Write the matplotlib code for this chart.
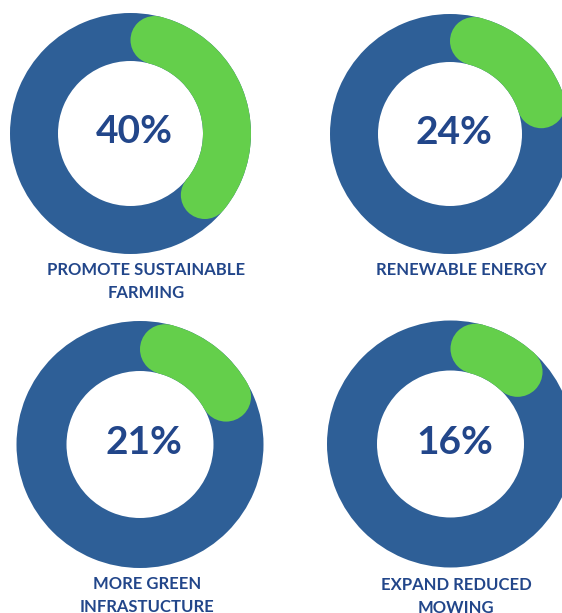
import numpy as np
import matplotlib
matplotlib.use("Agg")
import matplotlib.pyplot as plt
from matplotlib.patches import Wedge, Circle

# values shown in the four rings
labels = ["PROMOTE SUSTAINABLE\nFARMING", "RENEWABLE ENERGY",
          "MORE GREEN\nINFRASTUCTURE", "EXPAND REDUCED\nMOWING"]
values = [40, 24, 21, 16]

# layout in pixels (top-left origin)
centers = [(130.5, 133.5), (450, 134), (140, 444.5), (450.5, 444)]
outer_r = [120.5, 120, 123.5, 123.5]
ring_w = [48, 48, 50, 50]
label_pos = [(146, 262), (461.5, 262), (147, 576), (456, 577)]

W, H = 562, 613
DPI = 100
BLUE = "#2E5F97"
GREEN = "#64CF4B"
NAVY = "#22468A"

fig = plt.figure(figsize=(W / DPI, H / DPI), dpi=DPI)
ax = fig.add_axes([0, 0, 1, 1])
ax.set_xlim(0, W)
ax.set_ylim(0, H)
ax.set_aspect("equal")
ax.axis("off")

for (px, py), r, w, v, lab, (lx, ly) in zip(centers, outer_r, ring_w, values,
                                             labels, label_pos):
    cx, cy = px, H - py
    ax.add_patch(Wedge((cx, cy), r, 0, 360, width=w, color=BLUE, lw=0))

    # green arc, round caps kept inside the value span
    mid = r - w / 2
    cap = np.degrees(np.arcsin((w / 2) / mid))
    a0 = cap
    a1 = v / 100 * 360 - cap
    ax.add_patch(Wedge((cx, cy), r, 90 - a1, 90 - a0, width=w,
                       color=GREEN, lw=0))
    for a in (a0, a1):
        t = np.radians(90 - a)
        ax.add_patch(Circle((cx + mid * np.cos(t), cy + mid * np.sin(t)),
                            w / 2, color=GREEN, lw=0))

    ax.text(cx + 4, cy + 2, f"{v}%", ha="center", va="center",
            fontsize=28, color=NAVY, family="Lato", weight="bold")
    ax.text(lx, H - ly, lab, ha="center", va="top", fontsize=12,
            color=NAVY, family="Lato", weight="bold", linespacing=1.55)

fig.savefig("out.png", dpi=DPI)
